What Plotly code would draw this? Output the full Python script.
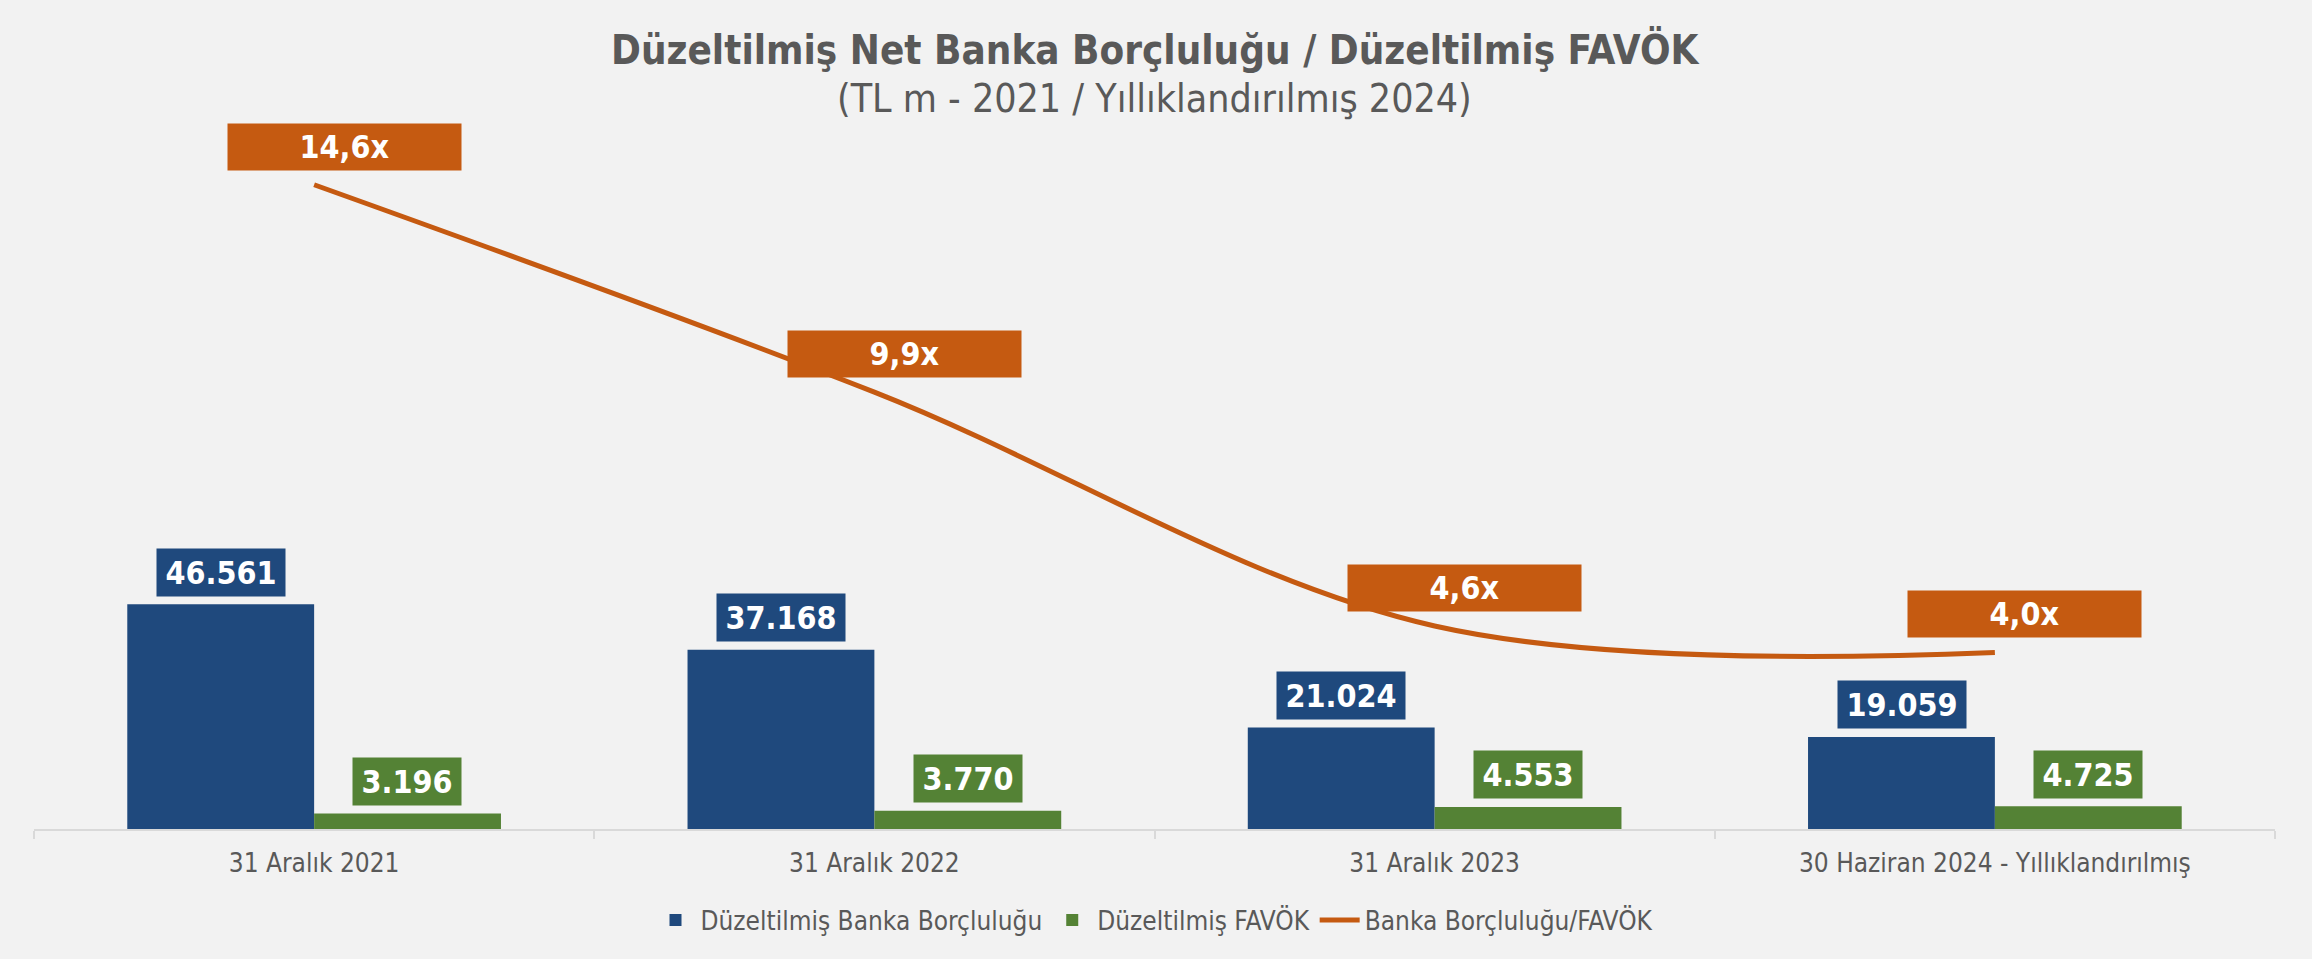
import plotly.graph_objects as go

categories = ["31 Aralık 2021", "31 Aralık 2022", "31 Aralık 2023",
              "30 Haziran 2024 - Yıllıklandırılmış"]
net_debt = [46561, 37168, 21024, 19059]
ebitda = [3196, 3770, 4553, 4725]
leverage = [14.6, 9.9, 4.6, 4.0]

BLUE = "#1F497D"
GREEN = "#548235"
ORANGE = "#C55A11"
GREY_TEXT = "#595959"
BG = "#F2F2F2"
FONT = "DejaVu Sans Condensed, DejaVu Sans"


def tr_thousands(v):
    return f"{v:,}".replace(",", ".")


def tr_multiple(v):
    return f"{v:.1f}".replace(".", ",") + "x"


fig = go.Figure()
fig.add_trace(go.Bar(x=categories, y=net_debt, name="Düzeltilmiş Banka Borçluluğu",
                     marker=dict(color=BLUE, line=dict(width=0)), hoverinfo="skip"))
fig.add_trace(go.Bar(x=categories, y=ebitda, name="Düzeltilmiş FAVÖK",
                     marker=dict(color=GREEN, line=dict(width=0)), hoverinfo="skip"))
fig.add_trace(go.Scatter(x=categories, y=leverage, name="Banka Borçluluğu/FAVÖK",
                         yaxis="y2", mode="lines",
                         line=dict(color=ORANGE, width=5, shape="spline", smoothing=1.0),
                         hoverinfo="skip"))

label_font = dict(family=FONT, size=32, color="white", weight="bold")
annotations = []
half_bar = 93.3
for cat, v in zip(categories, net_debt):
    annotations.append(dict(x=cat, y=v, xref="x", yref="y", text=tr_thousands(v),
                            showarrow=False, xshift=-half_bar, yshift=7.6,
                            xanchor="center", yanchor="bottom", width=128, height=47,
                            bgcolor=BLUE, borderpad=0, font=label_font))
for cat, v in zip(categories, ebitda):
    annotations.append(dict(x=cat, y=v, xref="x", yref="y", text=tr_thousands(v),
                            showarrow=False, xshift=half_bar, yshift=7.6,
                            xanchor="center", yanchor="bottom", width=108, height=47,
                            bgcolor=GREEN, borderpad=0, font=label_font))
for cat, v in zip(categories, leverage):
    annotations.append(dict(x=cat, y=v, xref="x", yref="y2", text=tr_multiple(v),
                            showarrow=False, xshift=30, yshift=38,
                            xanchor="center", yanchor="middle", width=233, height=46,
                            bgcolor=ORANGE, borderpad=0, font=label_font))

# chart title and subtitle
annotations.append(dict(x=0.5, y=1.0686, xref="paper", yref="paper", showarrow=False,
                        xanchor="center", yanchor="middle",
                        text="Düzeltilmiş Net Banka Borçluluğu / Düzeltilmiş FAVÖK",
                        font=dict(family=FONT, size=40, color=GREY_TEXT, weight="bold")))
annotations.append(dict(x=0.5, y=1.0014, xref="paper", yref="paper", showarrow=False,
                        xanchor="center", yanchor="middle",
                        text="(TL m - 2021 / Yıllıklandırılmış 2024)",
                        font=dict(family=FONT, size=39, color=GREY_TEXT)))

fig.update_layout(
    width=2312, height=959,
    paper_bgcolor=BG, plot_bgcolor=BG,
    margin=dict(l=34, r=37, t=100, b=130),
    barmode="group", bargap=0.333, bargroupgap=0,
    font=dict(family=FONT, color=GREY_TEXT),
    xaxis=dict(type="category", showgrid=False, showline=True, linecolor="#D9D9D9",
               linewidth=2, ticks="outside", tickson="boundaries", ticklen=8,
               tickcolor="#D9D9D9", tickwidth=2, ticklabelstandoff=10,
               tickfont=dict(family=FONT, size=26, color=GREY_TEXT)),
    yaxis=dict(range=[0, 151060], visible=False, showgrid=False, zeroline=False),
    yaxis2=dict(range=[0, 16.52], overlaying="y", side="right", visible=False,
                showgrid=False, zeroline=False),
    legend=dict(orientation="h", x=0.5, xanchor="center", y=-0.125, yanchor="middle",
                font=dict(family=FONT, size=26, color=GREY_TEXT),
                bgcolor="rgba(0,0,0,0)", itemwidth=40, tracegroupgap=0),
    annotations=annotations,
    showlegend=True,
)

fig.write_html("out.html", config={"displayModeBar": False})
